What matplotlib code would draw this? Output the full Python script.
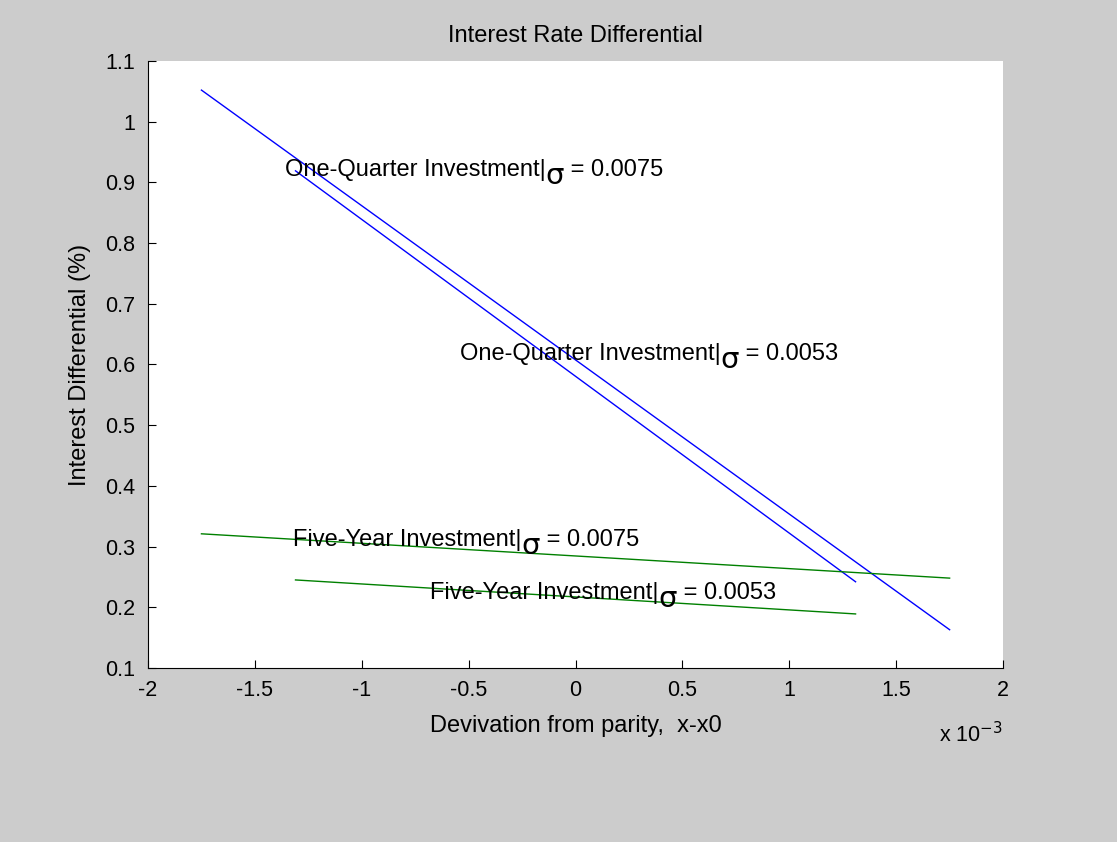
import matplotlib
matplotlib.use('Agg')
import matplotlib.pyplot as plt

plt.rcParams['font.family'] = ['Liberation Sans', 'DejaVu Sans']

# line endpoints, x in units of 1e-3
x_q75 = [-1.75, 1.75]
y_q75 = [1.052, 0.163]
x_q53 = [-1.31, 1.31]
y_q53 = [0.919, 0.242]
x_f75 = [-1.75, 1.75]
y_f75 = [0.321, 0.248]
x_f53 = [-1.31, 1.31]
y_f53 = [0.245, 0.189]

labels = [
    ('One-Quarter Investment|', '0.0075', -1.36, 0.92),
    ('One-Quarter Investment|', '0.0053', -0.54, 0.617),
    ('Five-Year Investment|', '0.0075', -1.32, 0.311),
    ('Five-Year Investment|', '0.0053', -0.68, 0.224),
]

fig = plt.figure(figsize=(11.17, 8.42), dpi=100, facecolor='#cccccc')
ax = fig.add_axes([0.1325, 0.2067, 0.7655, 0.7209])
ax.plot(x_q75, y_q75, color='blue', lw=1)
ax.plot(x_q53, y_q53, color='blue', lw=1)
ax.plot(x_f75, y_f75, color='green', lw=1)
ax.plot(x_f53, y_f53, color='green', lw=1)
ax.set_xlim(-2, 2)
ax.set_ylim(0.1, 1.1)

fig.canvas.draw()
r = fig.canvas.get_renderer()
inv = ax.transData.inverted()
for head, val, x, y in labels:
    t = ax.text(x, y, head, fontsize=17, va='center', ha='left')
    bb = t.get_window_extent(r)
    xs = inv.transform((bb.x1, 0))[0]
    s = ax.text(xs, y - 0.01, 'σ', fontsize=21, va='center', ha='left',
                family='DejaVu Sans')
    bb2 = s.get_window_extent(r)
    xv = inv.transform((bb2.x1, 0))[0]
    ax.text(xv, y, ' = ' + val, fontsize=17, va='center', ha='left')

ax.set_xticks([-2, -1.5, -1, -0.5, 0, 0.5, 1, 1.5, 2])
ax.set_xticklabels(['-2', '-1.5', '-1', '-0.5', '0', '0.5', '1', '1.5', '2'])
ax.set_yticks([0.1 * i for i in range(1, 12)])
ax.set_yticklabels(['0.1', '0.2', '0.3', '0.4', '0.5', '0.6', '0.7', '0.8',
                    '0.9', '1', '1.1'])
ax.tick_params(direction='in', labelsize=15.5, length=6, pad=9)
ax.spines['top'].set_visible(False)
ax.spines['right'].set_visible(False)
ax.set_title('Interest Rate Differential', fontsize=17, pad=14)
ax.set_xlabel('Devivation from parity,  x-x0', fontsize=17, labelpad=10)
ax.set_ylabel('Interest Differential (%)', fontsize=17, labelpad=10)
fig.text(0.898, 0.118, 'x 10$^{-3}$', fontsize=15.5, ha='right')

fig.savefig('out.png', facecolor=fig.get_facecolor())
